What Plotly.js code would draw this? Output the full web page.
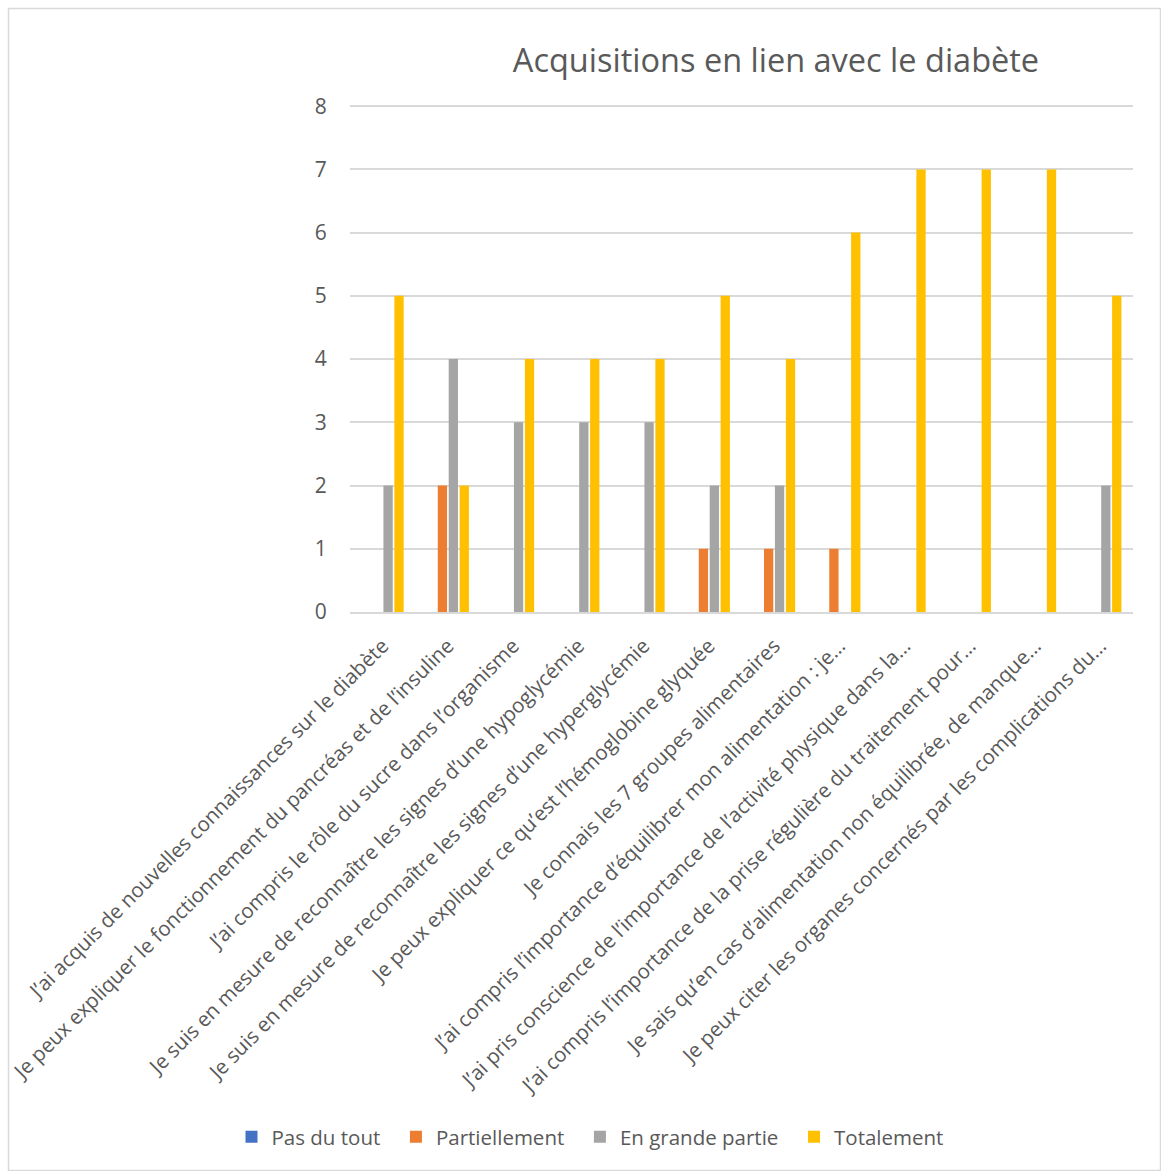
<!DOCTYPE html>
<html>
<head>
<meta charset="utf-8">
<script src="https://cdn.plot.ly/plotly-3.0.1.min.js"></script>
<style>html,body{margin:0;padding:0;background:#fff;}#chart{width:1161px;height:1171px;}</style>
</head>
<body>
<div id="chart"></div>
<script>
const categories = [
  "J’ai acquis de nouvelles connaissances sur le diabète",
  "Je peux expliquer le fonctionnement du pancréas et de l’insuline",
  "J’ai compris le rôle du sucre dans l’organisme",
  "Je suis en mesure de reconnaître les signes d’une hypoglycémie",
  "Je suis en mesure de reconnaître les signes d’une hyperglycémie",
  "Je peux expliquer ce qu’est l’hémoglobine glyquée",
  "Je connais les 7 groupes alimentaires",
  "J’ai compris l’importance d’équilibrer mon alimentation : je…",
  "J’ai pris conscience de l’importance de l’activité physique dans la…",
  "J’ai compris l’importance de la prise régulière du traitement pour…",
  "Je sais qu’en cas d’alimentation non équilibrée, de manque…",
  "Je peux citer les organes concernés par les complications du…"
];
const seriesNames = ["Pas du tout", "Partiellement", "En grande partie", "Totalement"];
const pasDuTout     = [0, 0, 0, 0, 0, 0, 0, 0, 0, 0, 0, 0];
const partiellement = [0, 2, 0, 0, 0, 1, 1, 1, 0, 0, 0, 0];
const enGrandePartie= [2, 4, 3, 3, 3, 2, 2, 0, 0, 0, 0, 2];
const totalement    = [5, 2, 4, 4, 4, 5, 4, 6, 7, 7, 7, 5];
const yTicks = [0, 1, 2, 3, 4, 5, 6, 7, 8];
const colors = ["#4472C4", "#ED7D31", "#A5A5A5", "#FFC000"];

const values = [pasDuTout, partiellement, enGrandePartie, totalement];
const FONT = "Open Sans, Noto Sans, sans-serif";
const NB = "\u00a0\u00a0";
const traces = values.map((v, i) => ({
  type: "bar",
  name: seriesNames[i] + (i < values.length - 1 ? NB : ""),
  x: categories,
  y: v,
  marker: {color: colors[i]},
  hoverinfo: "x+y"
}));

const L = 350, R = 28, T = 103, B = 559, W = 1161, H = 1171;
const pw = W - L - R, ph = H - T - B;
const px = x => (x - L) / pw;
const py = y => (H - B - y) / ph;

const layout = {
  width: W, height: H,
  margin: {l: L, r: R, t: T, b: B},
  paper_bgcolor: "#fff",
  plot_bgcolor: "#fff",
  font: {family: FONT, color: "#595959"},
  title: {
    text: "Acquisitions en lien avec le diabète",
    font: {family: FONT, size: 32.5, color: "#595959"},
    xref: "paper", x: px(776), xanchor: "center",
    yref: "container", y: 1 - 61 / H, yanchor: "middle"
  },
  barmode: "group",
  bargap: 0.33,
  bargroupgap: 0.15,
  showlegend: true,
  legend: {
    orientation: "h",
    xref: "paper", x: px(590), xanchor: "center",
    yref: "paper", y: py(1137), yanchor: "middle",
    font: {family: FONT, size: 20.5, color: "#595959"},
    itemwidth: 30,
    traceorder: "normal"
  },
  xaxis: {
    type: "category",
    tickangle: -45,
    tickfont: {family: FONT, size: 20.5, color: "#595959"},
    showgrid: false,
    showline: true,
    linecolor: "#d9d9d9",
    linewidth: 1.5,
    ticks: "outside",
    ticklen: 12,
    tickcolor: "rgba(0,0,0,0)",
    automargin: false
  },
  yaxis: {
    range: [0, 8.05],
    tickvals: yTicks,
    ticktext: yTicks.map(String),
    tickfont: {family: FONT, size: 21, color: "#595959"},
    showgrid: true,
    gridcolor: "#d9d9d9",
    gridwidth: 1.5,
    zeroline: false,
    showline: false,
    ticks: "outside",
    ticklen: 18,
    tickcolor: "rgba(0,0,0,0)",
    automargin: false
  },
  shapes: [{
    type: "rect", xref: "paper", yref: "paper",
    x0: px(8.5), x1: px(1160.5), y0: py(8.5), y1: py(1170.5),
    line: {color: "#d9d9d9", width: 1.5}, fillcolor: "rgba(0,0,0,0)", layer: "below"
  }]
};

Plotly.newPlot("chart", traces, layout, {displayModeBar: false, responsive: false});
</script>
</body>
</html>
